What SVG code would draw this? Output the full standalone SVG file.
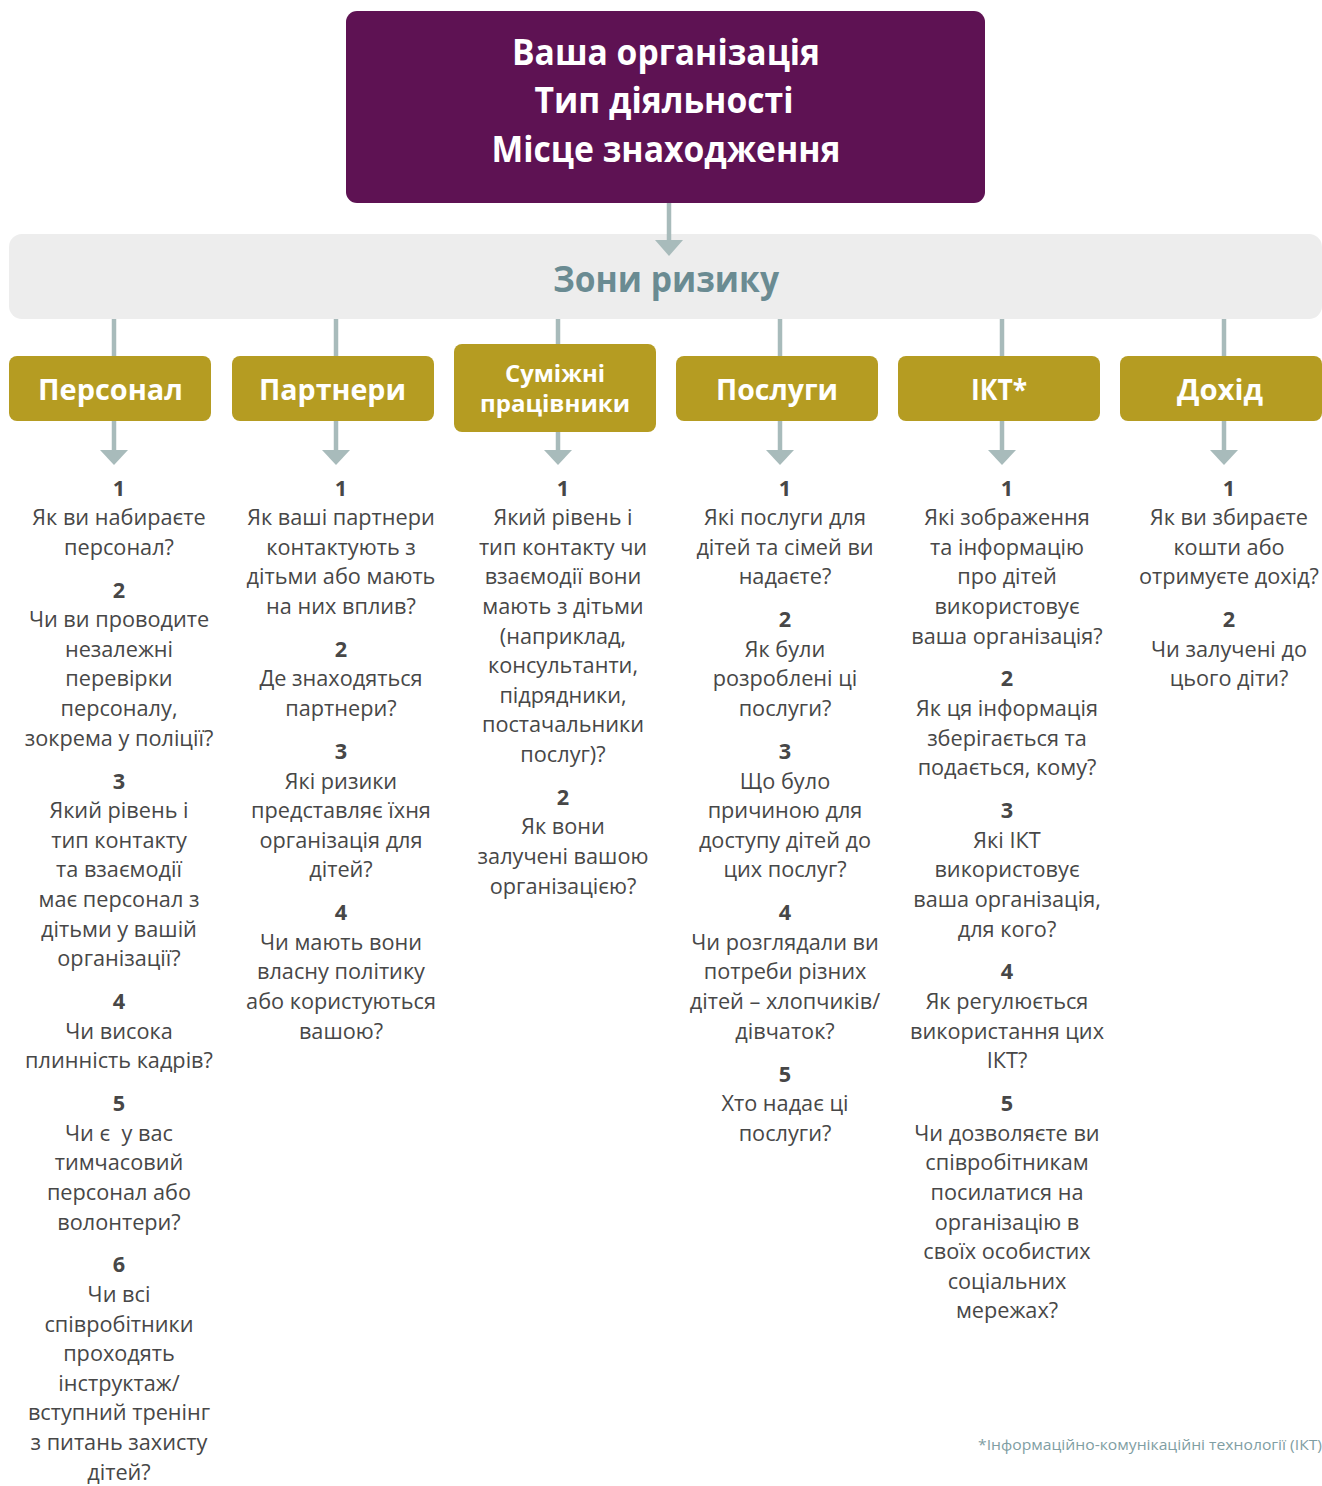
<svg xmlns="http://www.w3.org/2000/svg" width="1322" height="1486" viewBox="0 0 1322 1486">
<style>
.top{fill:#5E1253}
.ttl{font-family:"Open Sans","Noto Sans",sans-serif;font-weight:700;fill:#fff;font-size:35px;text-anchor:middle}
.bar{fill:#EDEDED}
.zone{font-family:"Open Sans","Noto Sans",sans-serif;font-weight:700;fill:#6A8B92;font-size:35px;text-anchor:middle}
.cat{fill:#B59C22}
.ct{font-family:"Open Sans","Noto Sans",sans-serif;font-weight:700;fill:#fff;font-size:29px;text-anchor:middle}
.ct2{font-family:"Open Sans","Noto Sans",sans-serif;font-weight:700;fill:#fff;font-size:24px;text-anchor:middle}
.q{font-family:"Open Sans","Noto Sans",sans-serif;fill:#474747;font-size:21.7px;text-anchor:middle}
.n{font-weight:700}
.con line{stroke:#A8BBBB;stroke-width:4.5}
.con polygon{fill:#A8BBBB}
.note{font-family:"Open Sans","Noto Sans",sans-serif;fill:#7F9EA3;font-size:15px}
</style>
<g id="org">
<rect class="top" x="346" y="11" width="639" height="192" rx="11"/>
<text class="ttl" x="666" y="65" textLength="308" lengthAdjust="spacingAndGlyphs">Ваша організація</text>
<text class="ttl" x="664" y="113" textLength="259" lengthAdjust="spacingAndGlyphs">Тип діяльності</text>
<text class="ttl" x="666" y="162" textLength="349" lengthAdjust="spacingAndGlyphs">Місце знаходження</text>
</g>
<g id="zones">
<rect class="bar" x="9" y="234" width="1313" height="85" rx="13"/>
<text class="zone" x="666" y="292" textLength="226" lengthAdjust="spacingAndGlyphs">Зони ризику</text>
</g>
<g id="cat-personal">
<rect class="cat" x="9" y="356" width="202" height="65" rx="8"/>
<text class="ct" x="110.5" y="400" textLength="145" lengthAdjust="spacingAndGlyphs">Персонал</text>
</g>
<g id="cat-partners">
<rect class="cat" x="232" y="356" width="202" height="65" rx="8"/>
<text class="ct" x="332.5" y="400" textLength="147" lengthAdjust="spacingAndGlyphs">Партнери</text>
</g>
<g id="cat-related">
<rect class="cat" x="454" y="344" width="202" height="88" rx="8"/>
<text class="ct2" x="555" y="382" textLength="100" lengthAdjust="spacingAndGlyphs">Суміжні</text>
<text class="ct2" x="555" y="412" textLength="150" lengthAdjust="spacingAndGlyphs">працівники</text>
</g>
<g id="cat-services">
<rect class="cat" x="676" y="356" width="202" height="65" rx="8"/>
<text class="ct" x="777" y="400" textLength="122" lengthAdjust="spacingAndGlyphs">Послуги</text>
</g>
<g id="cat-ict">
<rect class="cat" x="898" y="356" width="202" height="65" rx="8"/>
<text class="ct" x="999" y="400" textLength="56" lengthAdjust="spacingAndGlyphs">ІКТ*</text>
</g>
<g id="cat-income">
<rect class="cat" x="1120" y="356" width="202" height="65" rx="8"/>
<text class="ct" x="1220" y="400" textLength="86" lengthAdjust="spacingAndGlyphs">Дохід</text>
</g>
<g class="con" id="connectors">
<line x1="669" y1="203" x2="669" y2="242"/><polygon points="655,240 683,240 669,256"/>
<line x1="114" y1="319" x2="114" y2="356"/>
<line x1="336" y1="319" x2="336" y2="356"/>
<line x1="558" y1="319" x2="558" y2="344"/>
<line x1="780" y1="319" x2="780" y2="356"/>
<line x1="1002" y1="319" x2="1002" y2="356"/>
<line x1="1224" y1="319" x2="1224" y2="356"/>
<line x1="114" y1="421" x2="114" y2="452"/><polygon points="100,450 128,450 114,465"/>
<line x1="336" y1="421" x2="336" y2="452"/><polygon points="322,450 350,450 336,465"/>
<line x1="558" y1="432" x2="558" y2="452"/><polygon points="544,450 572,450 558,465"/>
<line x1="780" y1="421" x2="780" y2="452"/><polygon points="766,450 794,450 780,465"/>
<line x1="1002" y1="421" x2="1002" y2="452"/><polygon points="988,450 1016,450 1002,465"/>
<line x1="1224" y1="421" x2="1224" y2="452"/><polygon points="1210,450 1238,450 1224,465"/>
</g>
<g id="q-personal" class="q">
<text class="n" x="119" y="495.5">1</text>
<text x="119" y="525.1">Як ви набираєте</text>
<text x="119" y="554.7">персонал?</text>
<text class="n" x="119" y="597.6">2</text>
<text x="119" y="627.2">Чи ви проводите</text>
<text x="119" y="656.8">незалежні</text>
<text x="119" y="686.4">перевірки</text>
<text x="119" y="716">персоналу,</text>
<text x="119" y="745.6">зокрема у поліції?</text>
<text class="n" x="119" y="788.5">3</text>
<text x="119" y="818.1">Який рівень і</text>
<text x="119" y="847.7">тип контакту</text>
<text x="119" y="877.3">та взаємодії</text>
<text x="119" y="906.9">має персонал з</text>
<text x="119" y="936.5">дітьми у вашій</text>
<text x="119" y="966.1">організації?</text>
<text class="n" x="119" y="1009">4</text>
<text x="119" y="1038.6">Чи висока</text>
<text x="119" y="1068.2">плинність кадрів?</text>
<text class="n" x="119" y="1111.1">5</text>
<text x="119" y="1140.7" xml:space="preserve">Чи є  у вас</text>
<text x="119" y="1170.3">тимчасовий</text>
<text x="119" y="1199.9">персонал або</text>
<text x="119" y="1229.5">волонтери?</text>
<text class="n" x="119" y="1272.4">6</text>
<text x="119" y="1302">Чи всі</text>
<text x="119" y="1331.6">співробітники</text>
<text x="119" y="1361.2">проходять</text>
<text x="119" y="1390.8">інструктаж/</text>
<text x="119" y="1420.4">вступний тренінг</text>
<text x="119" y="1450">з питань захисту</text>
<text x="119" y="1479.6">дітей?</text>
</g>
<g id="q-partners" class="q">
<text class="n" x="341" y="495.5">1</text>
<text x="341" y="525.1">Як ваші партнери</text>
<text x="341" y="554.7">контактують з</text>
<text x="341" y="584.3">дітьми або мають</text>
<text x="341" y="613.9">на них вплив?</text>
<text class="n" x="341" y="656.8">2</text>
<text x="341" y="686.4">Де знаходяться</text>
<text x="341" y="716">партнери?</text>
<text class="n" x="341" y="758.9">3</text>
<text x="341" y="788.5">Які ризики</text>
<text x="341" y="818.1">представляє їхня</text>
<text x="341" y="847.7">організація для</text>
<text x="341" y="877.3">дітей?</text>
<text class="n" x="341" y="920.2">4</text>
<text x="341" y="949.8">Чи мають вони</text>
<text x="341" y="979.4">власну політику</text>
<text x="341" y="1009">або користуються</text>
<text x="341" y="1038.6">вашою?</text>
</g>
<g id="q-related" class="q">
<text class="n" x="563" y="495.5">1</text>
<text x="563" y="525.1">Який рівень і</text>
<text x="563" y="554.7">тип контакту чи</text>
<text x="563" y="584.3">взаємодії вони</text>
<text x="563" y="613.9">мають з дітьми</text>
<text x="563" y="643.5">(наприклад,</text>
<text x="563" y="673.1">консультанти,</text>
<text x="563" y="702.7">підрядники,</text>
<text x="563" y="732.3">постачальники</text>
<text x="563" y="761.9">послуг)?</text>
<text class="n" x="563" y="804.8">2</text>
<text x="563" y="834.4">Як вони</text>
<text x="563" y="864">залучені вашою</text>
<text x="563" y="893.6">організацією?</text>
</g>
<g id="q-services" class="q">
<text class="n" x="785" y="495.5">1</text>
<text x="785" y="525.1">Які послуги для</text>
<text x="785" y="554.7">дітей та сімей ви</text>
<text x="785" y="584.3">надаєте?</text>
<text class="n" x="785" y="627.2">2</text>
<text x="785" y="656.8">Як були</text>
<text x="785" y="686.4">розроблені ці</text>
<text x="785" y="716">послуги?</text>
<text class="n" x="785" y="758.9">3</text>
<text x="785" y="788.5">Що було</text>
<text x="785" y="818.1">причиною для</text>
<text x="785" y="847.7">доступу дітей до</text>
<text x="785" y="877.3">цих послуг?</text>
<text class="n" x="785" y="920.2">4</text>
<text x="785" y="949.8">Чи розглядали ви</text>
<text x="785" y="979.4">потреби різних</text>
<text x="785" y="1009">дітей – хлопчиків/</text>
<text x="785" y="1038.6">дівчаток?</text>
<text class="n" x="785" y="1081.5">5</text>
<text x="785" y="1111.1">Хто надає ці</text>
<text x="785" y="1140.7">послуги?</text>
</g>
<g id="q-ict" class="q">
<text class="n" x="1007" y="495.5">1</text>
<text x="1007" y="525.1">Які зображення</text>
<text x="1007" y="554.7">та інформацію</text>
<text x="1007" y="584.3">про дітей</text>
<text x="1007" y="613.9">використовує</text>
<text x="1007" y="643.5">ваша організація?</text>
<text class="n" x="1007" y="686.4">2</text>
<text x="1007" y="716">Як ця інформація</text>
<text x="1007" y="745.6">зберігається та</text>
<text x="1007" y="775.2">подається, кому?</text>
<text class="n" x="1007" y="818.1">3</text>
<text x="1007" y="847.7">Які ІКТ</text>
<text x="1007" y="877.3">використовує</text>
<text x="1007" y="906.9">ваша організація,</text>
<text x="1007" y="936.5">для кого?</text>
<text class="n" x="1007" y="979.4">4</text>
<text x="1007" y="1009">Як регулюється</text>
<text x="1007" y="1038.6">використання цих</text>
<text x="1007" y="1068.2">ІКТ?</text>
<text class="n" x="1007" y="1111.1">5</text>
<text x="1007" y="1140.7">Чи дозволяєте ви</text>
<text x="1007" y="1170.3">співробітникам</text>
<text x="1007" y="1199.9">посилатися на</text>
<text x="1007" y="1229.5">організацію в</text>
<text x="1007" y="1259.1">своїх особистих</text>
<text x="1007" y="1288.7">соціальних</text>
<text x="1007" y="1318.3">мережах?</text>
</g>
<g id="q-income" class="q">
<text class="n" x="1229" y="495.5">1</text>
<text x="1229" y="525.1">Як ви збираєте</text>
<text x="1229" y="554.7">кошти або</text>
<text x="1229" y="584.3">отримуєте дохід?</text>
<text class="n" x="1229" y="627.2">2</text>
<text x="1229" y="656.8">Чи залучені до</text>
<text x="1229" y="686.4">цього діти?</text>
</g>
<g id="footnote">
<text class="note" x="978" y="1450" textLength="344" lengthAdjust="spacingAndGlyphs">*Інформаційно-комунікаційні технології (ІКТ)</text>
</g>
</svg>
